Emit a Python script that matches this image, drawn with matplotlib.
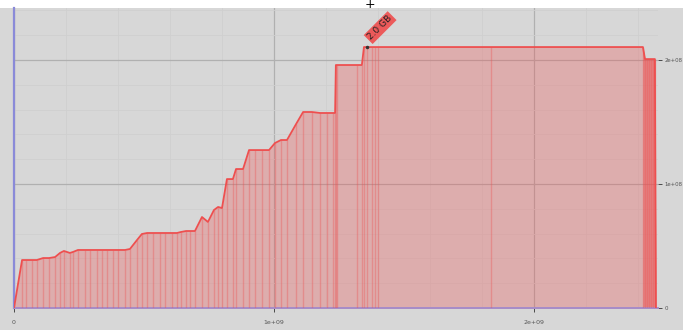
import matplotlib
matplotlib.use("Agg")
import matplotlib.pyplot as plt
from matplotlib.patches import Rectangle
import numpy as np

# sample positions (x in 1e9 units) and values (y in 1e8 units)
x_samples = [0.000, 0.031, 0.046, 0.069, 0.088, 0.112, 0.135, 0.158, 0.177, 0.192,
             0.215, 0.227, 0.246, 0.273, 0.292, 0.319, 0.338, 0.358, 0.381, 0.400,
             0.427, 0.446, 0.473, 0.492, 0.512, 0.535, 0.562, 0.581, 0.608, 0.627,
             0.642, 0.662, 0.677, 0.696, 0.723, 0.746, 0.769, 0.785, 0.800, 0.819,
             0.842, 0.854, 0.881, 0.904, 0.927, 0.954, 0.981, 1.004, 1.027, 1.050,
             1.085, 1.112, 1.146, 1.177, 1.204, 1.227, 1.235, 1.238, 1.242, 1.319,
             1.338, 1.346, 1.358, 1.377, 1.388, 1.400, 1.835, 2.419, 2.427, 2.435,
             2.442, 2.450, 2.458, 2.465, 2.469]
y_samples = [0.000, 0.387, 0.387, 0.387, 0.387, 0.403, 0.403, 0.411, 0.444, 0.460,
             0.444, 0.452, 0.468, 0.468, 0.468, 0.468, 0.468, 0.468, 0.468, 0.468,
             0.468, 0.476, 0.548, 0.597, 0.605, 0.605, 0.605, 0.605, 0.605, 0.605,
             0.613, 0.621, 0.621, 0.621, 0.734, 0.694, 0.790, 0.815, 0.806, 1.040,
             1.040, 1.121, 1.121, 1.274, 1.274, 1.274, 1.274, 1.331, 1.355, 1.355,
             1.484, 1.581, 1.581, 1.573, 1.573, 1.573, 1.573, 1.960, 1.960, 1.960,
             1.960, 2.105, 2.105, 2.105, 2.105, 2.105, 2.105, 2.105, 2.008, 2.008,
             2.008, 2.008, 2.008, 2.008, 0.000]
peak_label = "2.0 GB"
x_ticks = [0, 1e9, 2e9]
x_ticklabels = ["0", "1e+09", "2e+09"]
y_ticks = [0, 1e8, 2e8]
y_ticklabels = ["0", "1e+08", "2e+08"]

x = np.array(x_samples) * 1e9
y = np.array(y_samples) * 1e8

bg = "#d7d7d7"
red = "#ee4f4f"

fig = plt.figure(figsize=(6.83, 3.30), dpi=100, facecolor="white")
fig.patches.append(Rectangle((0, 0), 1, 322 / 330, transform=fig.transFigure,
                             facecolor=bg, edgecolor="none", zorder=-10))
ax = fig.add_axes([14 / 683, 22 / 330, 644 / 683, 300 / 330])
ax.set_facecolor(bg)

ax.set_xlim(0, 2.477e9)
ax.set_ylim(0, 2.42e8)

# grid
ax.set_xticks(np.arange(0, 2.5e9, 2e8), minor=True)
ax.set_yticks(np.arange(0, 2.5e8, 2e7), minor=True)
ax.grid(which="minor", color="#cfcfcf", lw=0.6, zorder=0)
ax.grid(which="major", color="#b0b0b0", lw=0.9, zorder=0)

ax.fill_between(x, y, color=red, alpha=0.3, lw=0, zorder=2)
tail = x >= x[-8]
ax.fill_between(x, y, where=tail, color=red, alpha=0.45, lw=0, zorder=2)
ax.vlines(x, 0, y, color=red, alpha=0.35, lw=1.0, zorder=3)
ax.plot(x, y, color=red, lw=1.3, zorder=4)

ipk = int(np.argmax(y))
ax.plot(x[ipk] + 0.012e9, y[ipk], "o", color="#333333", ms=1.5, zorder=5)
ax.annotate(peak_label, xy=(x[ipk] + 0.012e9, y[ipk]), xytext=(4, 4),
            textcoords="offset points", rotation=45, rotation_mode="anchor",
            ha="left", va="bottom", fontsize=6.5, color="#222222",
            bbox=dict(boxstyle="square,pad=0.2", fc="#ec5a5a", ec="none"),
            zorder=6)

ax.set_xticks(x_ticks)
ax.set_xticklabels(x_ticklabels)
ax.set_yticks(y_ticks)
ax.set_yticklabels(y_ticklabels)
ax.yaxis.tick_right()
ax.tick_params(axis="both", which="minor", length=0)
ax.tick_params(axis="x", which="major", labelsize=4.5, labelcolor="#555555",
               color="#333333", length=3, width=0.6, pad=6)
ax.tick_params(axis="y", which="major", labelsize=3.9, labelcolor="#555555",
               color="#333333", length=3, width=0.6, pad=1.5)

for s in ["top", "right"]:
    ax.spines[s].set_visible(False)
ax.spines["left"].set_color("#8a8ad8")
ax.spines["left"].set_linewidth(1.6)
ax.spines["bottom"].set_color("#a68cc8")
ax.spines["bottom"].set_linewidth(1.4)

fig.text(370 / 683, 1 - 5 / 330, "+", ha="center", va="center", fontsize=9,
         color="black")

fig.savefig("out.png", dpi=100, facecolor=fig.get_facecolor())
